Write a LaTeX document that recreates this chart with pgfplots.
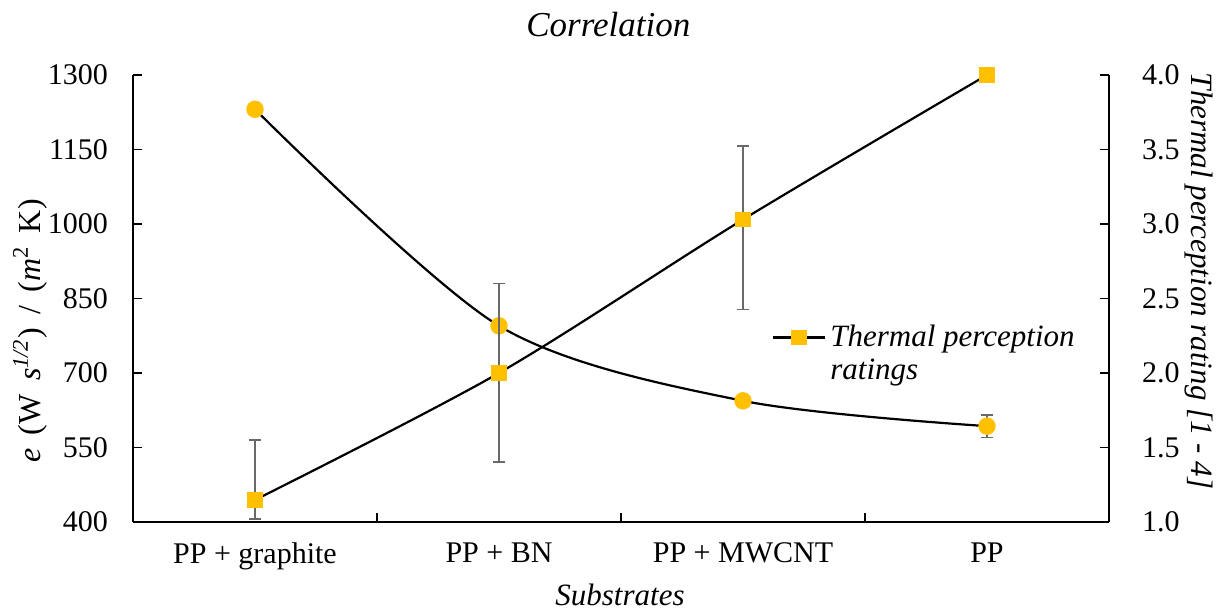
\documentclass[border=0pt]{standalone}
\usepackage{fontspec}
\setmainfont{Liberation Serif}
\usepackage{pgfplots}
\pgfplotsset{compat=1.18}
\definecolor{gold}{RGB}{255,192,0}
\definecolor{ebar}{RGB}{105,105,105}
\newcommand{\tfont}{\fontsize{15}{17}\selectfont}
\newcommand{\lfont}{\fontsize{15.5}{16.5}\selectfont}
\begin{document}
\begin{tikzpicture}
\useasboundingbox (0,0) rectangle (608.5pt,306.5pt);
\begin{axis}[
  at={(66.5pt,45.5pt)}, anchor=south west,
  scale only axis, width=488pt, height=223.5pt,
  xmin=-0.5, xmax=3.5, ymin=400, ymax=1300,
  axis x line*=bottom, axis y line*=left,
  axis line style={-, line width=0.9pt},
  tick align=inside,
  xtick={0,1,2,3},
  xticklabels={PP + graphite, PP + BN, PP + MWCNT, PP},
  major x tick style={draw=none},
  minor xtick={0.5,1.5,2.5},
  minor tick length=4.3pt, major tick length=4.3pt,
  tick style={line width=0.9pt, black},
  ytick={400,550,700,850,1000,1150,1300},
  /pgf/number format/assume math mode=true,
  /pgf/number format/1000 sep={},
  ticklabel style={font=\tfont},
  xticklabel style={yshift=-7pt},
  yticklabel style={xshift=-9pt},
  xlabel={\textit{Substrates}},
  xlabel style={at={(axis description cs:0.499,-0.164)}, anchor=center, font=\lfont},
  ylabel={\textit{e}\hspace{0.42em}(W\hspace{0.42em}\textit{s}\textsuperscript{\textit{1/2}})\hspace{0.42em}/\hspace{0.42em}(\textit{m}\textsuperscript{2}\hspace{0.42em}K)},
  ylabel style={at={(axis description cs:-0.1055,0.427)}, anchor=center, rotate=0, font=\fontsize{16}{18}\selectfont},
  clip=false,
]
\addplot[draw=none, forget plot, error bars/.cd, y dir=both, y explicit,
  error bar style={ebar, line width=0.9pt}, error mark options={ebar, line width=0.9pt, mark size=3pt, rotate=90}]
  coordinates {(3,593) +- (0,23)};
\addplot[black, line width=1.1pt, smooth, mark=*, mark size=3.8pt,
  mark options={draw=gold, fill=gold}, forget plot]
  coordinates {(0,1231) (1,795) (2,644) (3,593)};
\node at (axis description cs:0.487,1.112) {\fontsize{17.5}{20}\selectfont\textit{Correlation}};
\end{axis}
\begin{axis}[
  at={(66.5pt,45.5pt)}, anchor=south west,
  scale only axis, width=488pt, height=223.5pt,
  xmin=-0.5, xmax=3.5, ymin=1, ymax=4,
  axis x line=none, axis y line*=right,
  axis line style={-, line width=0.9pt},
  tick align=inside, major tick length=4.3pt,
  tick style={line width=0.9pt, black},
  ytick={1,1.5,2,2.5,3,3.5,4},
  /pgf/number format/assume math mode=true,
  /pgf/number format/fixed, /pgf/number format/fixed zerofill, /pgf/number format/precision=1,
  ticklabel style={font=\tfont},
  yticklabel style={xshift=13pt},
  ylabel={\textit{Thermal perception rating [1 - 4]}},
  ylabel style={at={(axis description cs:1.092,0.539)}, anchor=center, rotate=180, font=\lfont},
  legend style={at={(axis description cs:0.648,0.459)}, anchor=north west, draw=none, fill=none,
    font=\lfont, cells={anchor=west, align=left}},
  legend image code/.code={\draw[yshift=8.25pt, mark repeat=2,mark phase=2] plot coordinates {(0cm,0cm)(0.46cm,0cm)(0.92cm,0cm)};},
  clip=false,
]
\addplot[draw=none, forget plot, error bars/.cd, y dir=both, y explicit,
  error bar style={ebar, line width=0.9pt}, error mark options={ebar, line width=0.9pt, mark size=3pt, rotate=90}]
  coordinates {(0,1.148) += (0,0.4) -= (0,0.13) (1,2.0) +- (0,0.6) (2,3.03) += (0,0.496) -= (0,0.604)};
\addplot[black, line width=1.1pt, smooth, mark=square*, mark size=3.4pt,
  mark options={draw=gold, fill=gold}]
  coordinates {(0,1.148) (1,2.0) (2,3.03) (3,4.0)};
\addlegendentry{\textit{Thermal perception}\\\textit{ratings}}
\end{axis}
\end{tikzpicture}
\end{document}
